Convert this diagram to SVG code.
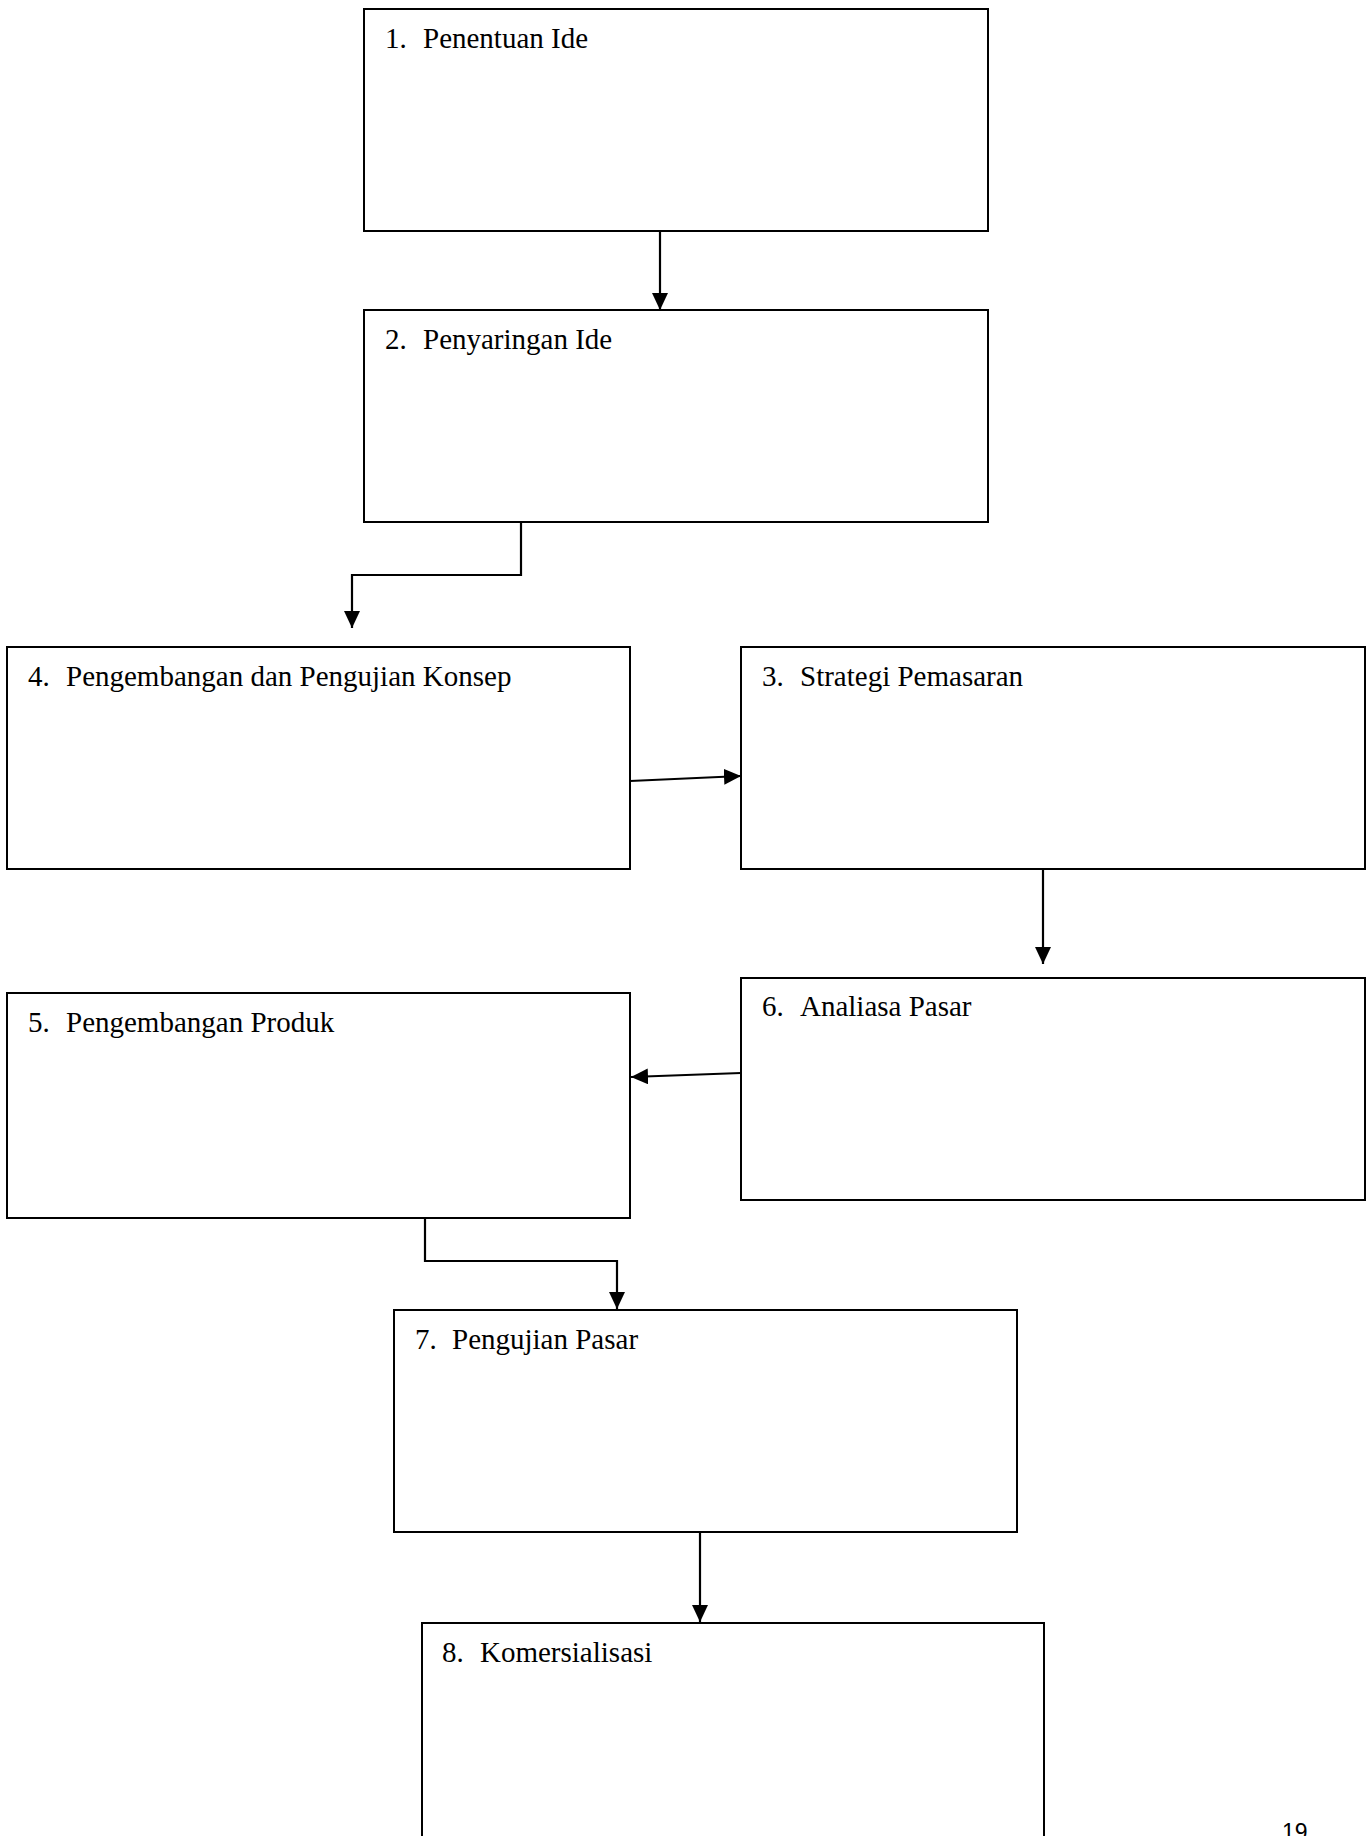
<svg xmlns="http://www.w3.org/2000/svg" width="1367" height="1836" viewBox="0 0 1367 1836">
  <style>
    .box { fill: #ffffff; stroke: #000000; stroke-width: 2; }
    .lbl { font-family: "Liberation Serif", "Times New Roman", serif; font-size: 29px; fill: #000000; }
    .conn { fill: none; stroke: #000000; stroke-width: 2.2; }
    .pg { font-family: "Liberation Sans", Arial, sans-serif; font-size: 23px; fill: #000000; }
  </style>
  <defs>
    <marker id="arrow" markerUnits="userSpaceOnUse" markerWidth="18" markerHeight="16" refX="17" refY="8" orient="auto">
      <path d="M0,0 L17,8 L0,16 Z" fill="#000000"/>
    </marker>
  </defs>
  <rect width="1367" height="1836" fill="#ffffff"/>

  <g id="node1">
    <rect class="box" x="364" y="9" width="624" height="222"/>
    <text class="lbl" y="48"><tspan x="385">1.</tspan><tspan x="423">Penentuan Ide</tspan></text>
  </g>
  <g id="node2">
    <rect class="box" x="364" y="310" width="624" height="212"/>
    <text class="lbl" y="349"><tspan x="385">2.</tspan><tspan x="423">Penyaringan Ide</tspan></text>
  </g>
  <g id="node4">
    <rect class="box" x="7" y="647" width="623" height="222"/>
    <text class="lbl" y="686"><tspan x="28">4.</tspan><tspan x="66">Pengembangan dan Pengujian Konsep</tspan></text>
  </g>
  <g id="node3">
    <rect class="box" x="741" y="647" width="624" height="222"/>
    <text class="lbl" y="686"><tspan x="762">3.</tspan><tspan x="800">Strategi Pemasaran</tspan></text>
  </g>
  <g id="node6">
    <rect class="box" x="741" y="978" width="624" height="222"/>
    <text class="lbl" y="1016"><tspan x="762">6.</tspan><tspan x="800">Analiasa Pasar</tspan></text>
  </g>
  <g id="node5">
    <rect class="box" x="7" y="993" width="623" height="225"/>
    <text class="lbl" y="1032"><tspan x="28">5.</tspan><tspan x="66">Pengembangan Produk</tspan></text>
  </g>
  <g id="node7">
    <rect class="box" x="394" y="1310" width="623" height="222"/>
    <text class="lbl" y="1349"><tspan x="415">7.</tspan><tspan x="452">Pengujian Pasar</tspan></text>
  </g>
  <g id="node8">
    <rect class="box" x="422" y="1623" width="622" height="300"/>
    <text class="lbl" y="1662"><tspan x="442">8.</tspan><tspan x="480">Komersialisasi</tspan></text>
  </g>

  <g id="connectors">
    <path class="conn" d="M660,231 V310" marker-end="url(#arrow)"/>
    <path class="conn" d="M687,522 H521 V575 H352 V628" marker-end="url(#arrow)"/>
    <path class="conn" d="M630,781 L741,776" marker-end="url(#arrow)"/>
    <path class="conn" d="M1043,869 V964" marker-end="url(#arrow)"/>
    <path class="conn" d="M741,1073 L631,1077" marker-end="url(#arrow)"/>
    <path class="conn" d="M235,1218 H425 V1261 H617 V1309" marker-end="url(#arrow)"/>
    <path class="conn" d="M700,1532 V1622" marker-end="url(#arrow)"/>
  </g>

  <text class="pg" x="1282" y="1840">19</text>
</svg>
